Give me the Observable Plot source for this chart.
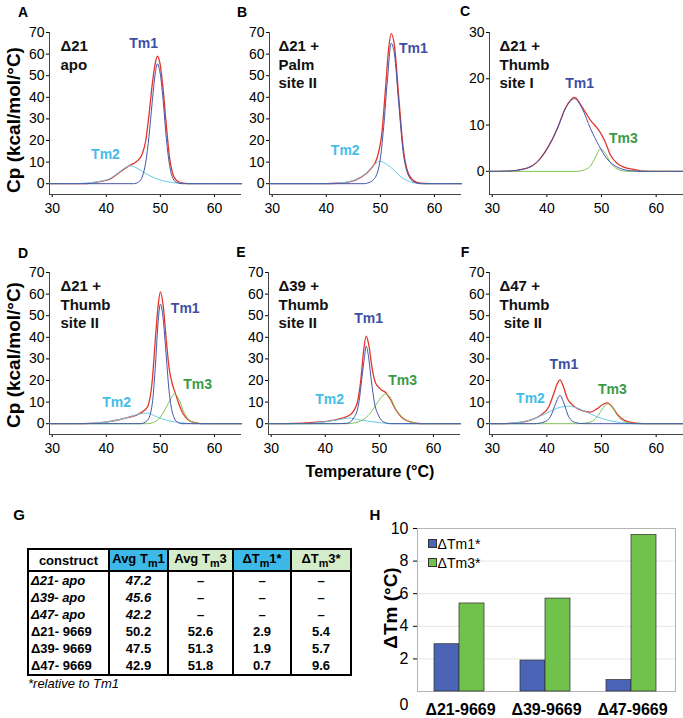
<!DOCTYPE html>
<html><head><meta charset="utf-8">
<script src="https://cdn.jsdelivr.net/npm/d3@7"></script>
<script src="https://cdn.jsdelivr.net/npm/@observablehq/plot@0.6"></script>
<style>
body{margin:0;background:#fff;font-family:"Liberation Sans",Arial,sans-serif;}
#root{position:relative;width:683px;height:718px;overflow:hidden;background:#fff;}
.abs{position:absolute;}
.lbl{position:absolute;transform:translate(-50%,-50%);white-space:nowrap;line-height:1;color:#000;}
.rot{transform:translate(-50%,-50%) rotate(-90deg);}
#hwrap [aria-label^="x-axis"] text{font-weight:bold;}
table.g{position:absolute;border-collapse:collapse;font-family:"Liberation Sans",Arial,sans-serif;font-size:13px;font-weight:bold;table-layout:fixed;}
table.g td,table.g th{padding:0;text-align:center;}
table.g th{height:20px;border:2px solid #000;}
table.g td{height:17px;border-left:2px solid #000;border-right:2px solid #000;}
table.g td.first{text-align:left;padding-left:2px;}
table.g tr.last td{border-bottom:2px solid #000;}
table.g .it{font-style:italic;}
.leg{position:absolute;background:#fff;font-size:14px;}
.sq{position:absolute;width:7px;height:7px;border:1px solid #333;}
</style>
</head><body>
<div id="root"></div>
<script>
// ---------- data ----------
const xTicks = [30, 40, 50, 60];
const yTicks70 = [0, 10, 20, 30, 40, 50, 60, 70];
const yTicks30 = [0, 10, 20, 30];

// Panel A: Δ21 apo
const A_total = [[29.5,0],[36,0],[38,0.6],[40.8,2.3],[42.6,5.5],[44.2,8.3],[45.7,10.5],[46.6,13.5],[47.3,20],[47.9,32],[48.5,46],[49,55],[49.45,59],[49.9,56],[50.5,44],[51.1,27],[51.7,12],[52.3,4.5],[53,1.5],[54,0.4],[56,0],[65,0]];
const A_tm1 = [[29.5,0],[45,0],[46,0.8],[46.7,3.5],[47.3,10],[47.9,22],[48.5,38],[49,50],[49.45,55.5],[49.9,52],[50.5,39],[51.1,21],[51.7,8.5],[52.3,2.5],[53,0.6],[54,0],[65,0]];
const A_tm2 = [[29.5,0],[35,0.1],[37.1,0.5],[39,1.2],[40.8,2.6],[42.6,5.8],[43.6,7.6],[44.3,8.3],[45.2,7.8],[46.5,6],[47.6,4.3],[49.4,2.2],[51.3,0.9],[53.7,0.2],[56,0],[65,0]];

// Panel B: Δ21 + Palm site II
const B_total = [[29.5,0],[40,0],[42,0.2],[43.9,0.6],[46.3,2.8],[48.2,6.7],[49.4,12],[50.3,24],[50.95,44],[51.55,63],[52.0,69.5],[52.6,64],[53.4,40],[54.2,17],[55,6],[56.2,1.3],[57.4,0.2],[59,0],[65,0]];
const B_tm1 = [[29.5,0],[47,0],[47.6,0.3],[48.8,2],[49.9,10],[50.6,26],[51.3,48],[52.0,65],[52.6,60],[53.4,37],[54.2,15],[55,5],[56.2,0.8],[57.5,0],[65,0]];
const B_tm2 = [[29.5,0],[40,0],[42,0.3],[43.9,0.8],[46.3,3],[48.2,6.8],[49.2,9.5],[49.9,10.4],[51.3,8.8],[52.5,6.3],[54,2.8],[55.6,0.8],[57.4,0.1],[59,0],[65,0]];

// Panel C: Δ21 + Thumb site I
const C_total = [[29.5,0],[32.7,0.05],[36.4,0.7],[38.2,2],[40.05,4.9],[41.9,9.2],[43.4,13.7],[45.05,16.0],[46.45,13.9],[48.0,11],[49.5,8.9],[50.7,6.3],[51.6,3.6],[52.9,1.7],[54.1,0.9],[55.9,0.4],[57.1,0.1],[59,0],[65,0]];
const C_tm1 = [[29.5,0],[32.7,0.05],[36.4,0.7],[38.2,2],[40.05,4.9],[41.9,9.2],[43.4,13.6],[45.05,15.7],[46.45,13.6],[48.0,9.2],[49.5,5.6],[51.0,2.7],[52.9,0.9],[55.3,0.15],[58,0],[65,0]];
const C_tm3 = [[29.5,0],[45.5,0],[46.8,0.3],[48.0,1.2],[48.9,3.1],[49.8,4.9],[50.7,3.9],[51.6,2],[52.9,0.5],[54.7,0],[65,0]];

// Panel D: Δ21 + Thumb site II
const D_total = [[29.5,0],[35.85,0],[40.2,0.8],[43.9,2.8],[46.3,4.9],[47.6,7.7],[48.5,20],[49.1,40],[49.6,55],[50.0,61],[50.5,55],[51.1,38.5],[51.6,26],[52.2,18.5],[52.8,13.8],[53.4,9.2],[54.2,4.6],[55.3,1.5],[56.8,0.3],[58,0],[65,0]];
const D_tm1 = [[29.5,0],[46.3,0],[47.6,1.5],[48.5,9.2],[49.1,27.7],[49.6,47.7],[50.0,55.4],[50.5,49],[51.1,30.8],[51.6,15.4],[52.2,5.4],[53.1,0.8],[54,0],[65,0]];
const D_tm2 = [[29.5,0],[35.85,0.1],[40.2,0.8],[43.9,2.8],[46.3,4.6],[47.6,4.9],[49.4,3.1],[51.3,1.5],[53.7,0.5],[56.2,0],[65,0]];
const D_tm3 = [[29.5,0],[47.6,0],[49.4,1.5],[50.6,5.4],[51.6,10],[52.6,13.8],[53.4,11.5],[54.2,6.2],[55.1,2.3],[56.2,0.5],[58,0],[65,0]];

// Panel E: Δ39 + Thumb site II
const E_total = [[29.5,0],[32.9,0],[39.1,0.8],[42.2,2],[44.66,4.3],[45.9,9.6],[46.5,18.8],[47.1,34],[47.56,40.5],[48.05,36.4],[48.7,25],[49.3,18.8],[50.2,16],[51.25,14.2],[52.06,11.2],[53.0,6.6],[54.2,2.8],[55.8,0.8],[57.6,0],[65,0]];
const E_tm1 = [[29.5,0],[42,0],[44.05,0.2],[45.3,2.8],[46.2,9.6],[46.8,21.9],[47.25,31],[47.56,35.9],[47.9,32.6],[48.5,20.3],[49.1,9.6],[49.9,3.5],[50.8,0.8],[52,0],[65,0]];
const E_tm2 = [[29.5,0],[36.0,0],[39.7,0.8],[42.2,1.7],[44.35,2.6],[46.5,1.7],[49.0,0.8],[51.4,0.2],[53,0],[65,0]];
const E_tm3 = [[29.5,0],[44.05,0],[46.5,1.2],[48.36,5],[49.6,9.6],[50.5,12.7],[51.25,13.8],[52.06,11.9],[53.0,6.9],[54.2,3.1],[55.8,0.8],[57.6,0],[65,0]];

// Panel F: Δ47 + Thumb site II
const F_total = [[29.5,0],[31.5,0],[34.6,0.5],[37.0,1.7],[38.8,3.8],[40.4,8.1],[41.3,14.2],[41.9,18.5],[42.4,20.3],[43.0,17.3],[43.7,11.9],[44.95,8.1],[46.5,6.1],[48.0,5.4],[49.2,7],[50.3,9],[51.05,9.6],[52.0,7.6],[52.9,4.3],[54.1,1.7],[55.6,0.5],[57.8,0],[65,0]];
const F_tm1 = [[29.5,0],[37.6,0],[39.5,0.8],[40.7,3.5],[41.6,9.3],[42.4,13.1],[43.1,9.6],[44.0,3.2],[45.25,0.5],[46.8,0],[65,0]];
const F_tm2 = [[29.5,0],[31.5,0],[34.6,0.5],[37.0,1.7],[39.5,4.3],[41.9,7.2],[44.0,8.1],[46.2,6.6],[48.6,3.8],[51.05,1.7],[53.5,0.5],[55.9,0],[65,0]];
const F_tm3 = [[29.5,0],[45.6,0],[48.0,0.8],[49.2,3.2],[50.3,7.3],[51.05,9.2],[52.0,7.6],[52.9,3.8],[54.1,1.1],[55.6,0.15],[57,0],[65,0]];

// peak labels [name, T, Cp]
const A_labels = [["Tm1",46.9,64.9],["Tm2",39.85,13.4]];
const B_labels = [["Tm1",56.1,62.6],["Tm2",43.5,15.3]];
const C_labels = [["Tm1",46.0,19.0],["Tm3",54.0,7.0]];
const D_labels = [["Tm1",54.6,53.2],["Tm2",41.9,9.7],["Tm3",56.9,18.0]];
const E_labels = [["Tm1",48.0,48.6],["Tm2",40.8,11.2],["Tm3",54.3,20.0]];
const F_labels = [["Tm1",43.1,27.3],["Tm2",37.0,11.6],["Tm3",52.0,15.7]];

const panelTitles = ["Δ21\napo","Δ21 +\nPalm\nsite II","Δ21 +\nThumb\nsite I","Δ21 +\nThumb\nsite II","Δ39 +\nThumb\nsite II","Δ47 +\nThumb\n\u00a0site II"];
const panelLetters = ["A","B","C","D","E","F","G","H"];

// table G
const tableHeader = ["construct","Avg T<sub>m</sub>1","Avg T<sub>m</sub>3","ΔT<sub>m</sub>1*","ΔT<sub>m</sub>3*"];
const tableConstructs = ["Δ21- apo","Δ39- apo","Δ47- apo","Δ21- 9669","Δ39- 9669","Δ47- 9669"];
const avgTm1 = ["47.2","45.6","42.2","50.2","47.5","42.9"];
const avgTm3 = ["–","–","–","52.6","51.3","51.8"];
const dTm1 = ["–","–","–","2.9","1.9","0.7"];
const dTm3 = ["–","–","–","5.4","5.7","9.6"];

// bar chart H
const H_groups = ["Δ21-9669","Δ39-9669","Δ47-9669"];
const H_dTm1 = [2.9, 1.9, 0.7];
const H_dTm3 = [5.4, 5.7, 9.6];
const H_series = ["ΔTm1*","ΔTm3*"];

// ---------- styling ----------
const RED = "#e2352c", BLUE = "#4356a8", CYAN = "#6ccbe8", GREEN = "#7cc35a";
const labelColor = {Tm1: "#3e4fa3", Tm2: "#45bde8", Tm3: "#3a9a45"};
const root = document.getElementById("root");

function put(el, left, top) {
  el.style.position = "absolute"; el.style.left = left + "px"; el.style.top = top + "px";
  root.appendChild(el);
}
function text(str, cx, cy, css, rot) {
  const d = document.createElement("div");
  d.className = "lbl" + (rot ? " rot" : "");
  d.textContent = str;
  d.style.left = cx + "px"; d.style.top = cy + "px";
  Object.assign(d.style, css || {});
  root.appendChild(d);
}

const svgStyle = {background: "transparent", overflow: "visible", fontFamily: "'Liberation Sans', Arial, sans-serif", fontSize: "14px", color: "#000", maxWidth: "none"};

function dsc(curves, labels, cfg) {
  const fw = cfg.fw, fh = 162, ml = 49, mt = 32, mr = 8, mb = 30;
  const marks = [
    Plot.ruleX([29.5], {stroke: "#444"}),
    Plot.ruleY([cfg.yDomain[0]], {stroke: "#444"})
  ];
  for (const [data, color, w] of curves) {
    marks.push(Plot.line(data, {x: d => d[0], y: d => d[1], stroke: color, strokeWidth: w, curve: "monotone-x"}));
  }
  for (const l of labels) {
    marks.push(Plot.text([l], {x: d => d[1], y: d => d[2], text: d => d[0], fill: labelColor[l[0]], fontWeight: "bold", fontSize: 14}));
  }
  marks.push(Plot.text([cfg.title], {frameAnchor: "top-left", dx: cfg.dx, dy: 5, textAnchor: "start", lineAnchor: "top", lineHeight: 1.25, fontSize: 15, fontWeight: "bold", fill: "#111"}));
  const p = Plot.plot({
    width: ml + fw + mr, height: mt + fh + mb,
    marginLeft: ml, marginTop: mt, marginRight: mr, marginBottom: mb,
    x: {domain: [29.5, 65], ticks: xTicks, tickSize: 3, tickPadding: 6, label: null},
    y: {domain: cfg.yDomain, ticks: cfg.yTicks, tickSize: 3, tickPadding: 2, label: null},
    style: svgStyle,
    marks
  });
  put(p, cfg.left, cfg.top);
}

dsc([[A_total, RED, 1.3], [A_tm2, CYAN, 1], [A_tm1, BLUE, 1]], A_labels, {fw: 192, yDomain: [-5,70], yTicks: yTicks70, left: 0, top: 0, title: panelTitles[0], dx: 11});
dsc([[B_total, RED, 1.3], [B_tm2, CYAN, 1], [B_tm1, BLUE, 1]], B_labels, {fw: 192, yDomain: [-5,70], yTicks: yTicks70, left: 220, top: 0, title: panelTitles[1], dx: 9});
dsc([[C_total, RED, 1.3], [C_tm3, GREEN, 1], [C_tm1, BLUE, 1]], C_labels, {fw: 194, yDomain: [-5,30], yTicks: yTicks30, left: 440, top: 0, title: panelTitles[2], dx: 10});
dsc([[D_total, RED, 1.3], [D_tm2, CYAN, 1], [D_tm3, GREEN, 1], [D_tm1, BLUE, 1]], D_labels, {fw: 192, yDomain: [-5,70], yTicks: yTicks70, left: 0, top: 240, title: panelTitles[3], dx: 11});
dsc([[E_total, RED, 1.3], [E_tm2, CYAN, 1], [E_tm3, GREEN, 1], [E_tm1, BLUE, 1]], E_labels, {fw: 192, yDomain: [-5,70], yTicks: yTicks70, left: 219, top: 240, title: panelTitles[4], dx: 10});
dsc([[F_total, RED, 1.3], [F_tm2, CYAN, 1], [F_tm3, GREEN, 1], [F_tm1, BLUE, 1]], F_labels, {fw: 194, yDomain: [-5,70], yTicks: yTicks70, left: 440, top: 240, title: panelTitles[5], dx: 10});

// axis titles & panel letters
text("Cp (kcal/mol/°C)", 13, 120, {fontWeight: "bold", fontSize: "19px"}, true);
text("Cp (kcal/mol/°C)", 13, 355, {fontWeight: "bold", fontSize: "19px"}, true);
text("Temperature (°C)", 370, 472, {fontWeight: "bold", fontSize: "16px"});
const letterPos = [[23,12],[242,12],[465,11],[23,253],[241,252],[465,252],[19,514],[375,514]];
panelLetters.forEach((L, i) => text(L, letterPos[i][0], letterPos[i][1], {fontWeight: "bold", fontSize: i < 6 ? "14px" : "15px"}));

// ---------- table G ----------
const tbl = document.createElement("table");
tbl.className = "g";
tbl.style.left = "27px"; tbl.style.top = "548px"; tbl.style.width = "323px";
const colW = [81, 59, 65, 58, 60];
const hdrBg = ["#ffffff", "#3cb9e9", "#d5ecca", "#3cb9e9", "#d5ecca"];
let html = "<colgroup>" + colW.map(w => `<col style="width:${w}px">`).join("") + "</colgroup><tr>";
tableHeader.forEach((h, i) => { html += `<th style="background:${hdrBg[i]}">${h}</th>`; });
html += "</tr>";
tableConstructs.forEach((c, r) => {
  const it = r < 3 ? " it" : "";
  html += `<tr class="${r === 5 ? "last" : ""}"><td class="first${it}">${c}</td><td class="${it}">${avgTm1[r]}</td><td>${avgTm3[r]}</td><td>${dTm1[r]}</td><td>${dTm3[r]}</td></tr>`;
});
tbl.innerHTML = html;
root.appendChild(tbl);
const cap = document.createElement("div");
cap.textContent = "*relative to Tm1";
Object.assign(cap.style, {fontStyle: "italic", fontSize: "13px", lineHeight: "1"});
put(cap, 28, 677);

// ---------- bar chart H ----------
const hRows = H_groups.map((g, i) => ({g, d1: H_dTm1[i], d3: H_dTm3[i]}));
const BAR_BLUE = "#4b64b6", BAR_GREEN = "#70c24a";
const hPlot = Plot.plot({
  width: 40 + 258 + 10, height: 10 + 163 + 26,
  marginLeft: 40, marginTop: 10, marginRight: 10, marginBottom: 26,
  x: {domain: H_groups, padding: 0, tickSize: 0, tickPadding: 12, label: null},
  y: {domain: [0, 10], ticks: [2, 4, 6, 8, 10], tickSize: 4, tickPadding: 5, label: null, grid: true},
  style: {...svgStyle, fontSize: "16px"},
  marks: [
    Plot.frame({stroke: "#b4b4b4"}),
    Plot.barY(hRows, {x: "g", y: "d1", fill: BAR_BLUE, stroke: "#2c2c2c", strokeWidth: 0.7, insetLeft: 17, insetRight: 44}),
    Plot.barY(hRows, {x: "g", y: "d3", fill: BAR_GREEN, stroke: "#2c2c2c", strokeWidth: 0.7, insetLeft: 42, insetRight: 19}),
    Plot.text(["0"], {frameAnchor: "bottom-left", dx: -18, dy: 18, fontSize: 16})
  ]
});
const hwrap = document.createElement("div");
hwrap.id = "hwrap";
hwrap.appendChild(hPlot);
put(hwrap, 377, 518);
text("ΔTm (°C)", 390, 608, {fontWeight: "bold", fontSize: "19px"}, true);
// legend
const leg = document.createElement("div");
leg.className = "leg";
Object.assign(leg.style, {width: "52px", height: "36px"});
put(leg, 426, 535);
[BAR_BLUE, BAR_GREEN].forEach((c, i) => {
  const s = document.createElement("div");
  s.className = "sq"; s.style.background = c;
  put(s, 428, 539 + i * 19);
  text(H_series[i], 438 + 21, 544 + i * 19, {fontSize: "14px"});
});
</script>
</body></html>
